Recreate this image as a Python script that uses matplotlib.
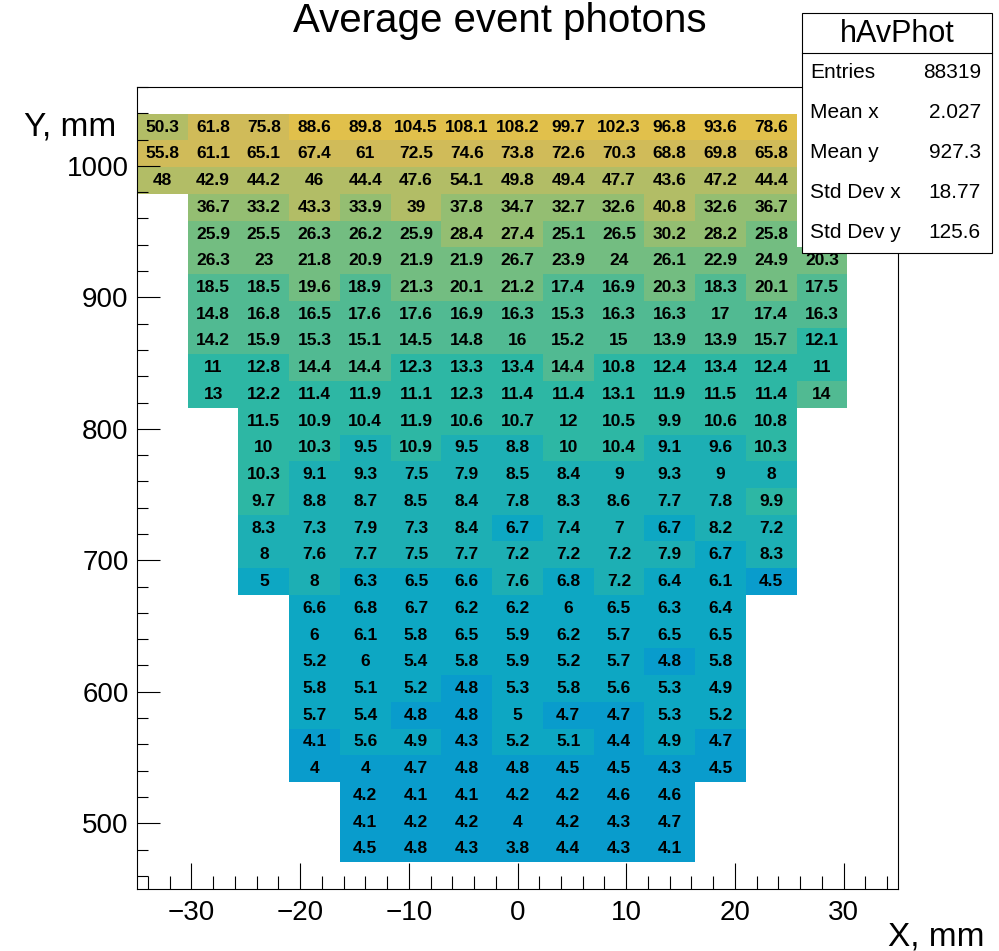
import numpy as np
import matplotlib
matplotlib.use("Agg")
import matplotlib.pyplot as plt
from matplotlib.colors import ListedColormap, BoundaryNorm
from matplotlib.ticker import MultipleLocator
from matplotlib.patches import Rectangle
from matplotlib.lines import Line2D

plt.rcParams['font.family'] = ['Liberation Sans', 'DejaVu Sans']

# histogram binning (ROOT TH2: 15 x bins, 30 y bins)
x_range = (-35, 35)
y_range = (450, 1060)
nx, ny = 15, 30

# average photons per cell, rows from the top (y bin 28) down to y bin 1
# first_col = index of the first filled x bin in each row
first_col = [0, 0, 0, 1, 1, 1, 1, 1, 1, 1, 1, 2, 2, 2, 2, 2, 2, 2,
             3, 3, 3, 3, 3, 3, 3, 4, 4, 4]
row28 = [50.3, 61.8, 75.8, 88.6, 89.8, 104.5, 108.1, 108.2, 99.7, 102.3, 96.8, 93.6, 78.6]
row27 = [55.8, 61.1, 65.1, 67.4, 61, 72.5, 74.6, 73.8, 72.6, 70.3, 68.8, 69.8, 65.8]
row26 = [48, 42.9, 44.2, 46, 44.4, 47.6, 54.1, 49.8, 49.4, 47.7, 43.6, 47.2, 44.4]
row25 = [36.7, 33.2, 43.3, 33.9, 39, 37.8, 34.7, 32.7, 32.6, 40.8, 32.6, 36.7]
row24 = [25.9, 25.5, 26.3, 26.2, 25.9, 28.4, 27.4, 25.1, 26.5, 30.2, 28.2, 25.8]
row23 = [26.3, 23, 21.8, 20.9, 21.9, 21.9, 26.7, 23.9, 24, 26.1, 22.9, 24.9, 20.3]
row22 = [18.5, 18.5, 19.6, 18.9, 21.3, 20.1, 21.2, 17.4, 16.9, 20.3, 18.3, 20.1, 17.5]
row21 = [14.8, 16.8, 16.5, 17.6, 17.6, 16.9, 16.3, 15.3, 16.3, 16.3, 17, 17.4, 16.3]
row20 = [14.2, 15.9, 15.3, 15.1, 14.5, 14.8, 16, 15.2, 15, 13.9, 13.9, 15.7, 12.1]
row19 = [11, 12.8, 14.4, 14.4, 12.3, 13.3, 13.4, 14.4, 10.8, 12.4, 13.4, 12.4, 11]
row18 = [13, 12.2, 11.4, 11.9, 11.1, 12.3, 11.4, 11.4, 13.1, 11.9, 11.5, 11.4, 14]
row17 = [11.5, 10.9, 10.4, 11.9, 10.6, 10.7, 12, 10.5, 9.9, 10.6, 10.8]
row16 = [10, 10.3, 9.5, 10.9, 9.5, 8.8, 10, 10.4, 9.1, 9.6, 10.3]
row15 = [10.3, 9.1, 9.3, 7.5, 7.9, 8.5, 8.4, 9, 9.3, 9, 8]
row14 = [9.7, 8.8, 8.7, 8.5, 8.4, 7.8, 8.3, 8.6, 7.7, 7.8, 9.9]
row13 = [8.3, 7.3, 7.9, 7.3, 8.4, 6.7, 7.4, 7, 6.7, 8.2, 7.2]
row12 = [8, 7.6, 7.7, 7.5, 7.7, 7.2, 7.2, 7.2, 7.9, 6.7, 8.3]
row11 = [5, 8, 6.3, 6.5, 6.6, 7.6, 6.8, 7.2, 6.4, 6.1, 4.5]
row10 = [6.6, 6.8, 6.7, 6.2, 6.2, 6, 6.5, 6.3, 6.4]
row09 = [6, 6.1, 5.8, 6.5, 5.9, 6.2, 5.7, 6.5, 6.5]
row08 = [5.2, 6, 5.4, 5.8, 5.9, 5.2, 5.7, 4.8, 5.8]
row07 = [5.8, 5.1, 5.2, 4.8, 5.3, 5.8, 5.6, 5.3, 4.9]
row06 = [5.7, 5.4, 4.8, 4.8, 5, 4.7, 4.7, 5.3, 5.2]
row05 = [4.1, 5.6, 4.9, 4.3, 5.2, 5.1, 4.4, 4.9, 4.7]
row04 = [4, 4, 4.7, 4.8, 4.8, 4.5, 4.5, 4.3, 4.5]
row03 = [4.2, 4.1, 4.1, 4.2, 4.2, 4.6, 4.6]
row02 = [4.1, 4.2, 4.2, 4, 4.2, 4.3, 4.7]
row01 = [4.5, 4.8, 4.3, 3.8, 4.4, 4.3, 4.1]

rows = [row28, row27, row26, row25, row24, row23, row22, row21, row20, row19,
        row18, row17, row16, row15, row14, row13, row12, row11, row10, row09,
        row08, row07, row06, row05, row04, row03, row02, row01]

# stats box
stat_names = ["Entries", "Mean x", "Mean y", "Std Dev x", "Std Dev y"]
stat_values = ["88319", "2.027", "927.3", "18.77", "125.6"]

# ROOT kBird palette, 20 contour levels on a log z scale
stops = [0.0, 0.125, 0.25, 0.375, 0.5, 0.625, 0.75, 0.875, 1.0]
red = [0.2082, 0.0592, 0.0780, 0.0232, 0.1802, 0.5301, 0.8186, 0.9956, 0.9764]
green = [0.1664, 0.3599, 0.5041, 0.6419, 0.7178, 0.7492, 0.7328, 0.7862, 0.9832]
blue = [0.5293, 0.8684, 0.8385, 0.7914, 0.6425, 0.4662, 0.3499, 0.1968, 0.0539]
ndiv = 20
idx = [int((i + 0.99) * 255 / ndiv) / 255 for i in range(ndiv)]
level_colors = [(np.interp(f, stops, red), np.interp(f, stops, green), np.interp(f, stops, blue)) for f in idx]
cmap = ListedColormap(level_colors)
zmin = 10 ** -0.3635
bounds = zmin * 10 ** (3.0 * np.arange(ndiv + 1) / ndiv)
norm = BoundaryNorm(bounds, ncolors=ndiv)

z = np.full((ny, nx), np.nan)
for k, vals in enumerate(rows):
    yb = 28 - k
    c0 = first_col[k]
    z[yb, c0:c0 + len(vals)] = vals

xedges = np.linspace(x_range[0], x_range[1], nx + 1)
yedges = np.linspace(y_range[0], y_range[1], ny + 1)

W, H = 999, 951
fig = plt.figure(figsize=(W / 100, H / 100), dpi=100)
ax = fig.add_axes([137 / W, 1 - 889 / H, (898 - 137) / W, (889 - 87) / H])
ax.pcolormesh(xedges, yedges, np.ma.masked_invalid(z), cmap=cmap, norm=norm)

xc = 0.5 * (xedges[:-1] + xedges[1:])
yc = 0.5 * (yedges[:-1] + yedges[1:])
for j in range(ny):
    for i in range(nx):
        if not np.isnan(z[j, i]):
            ax.text(xc[i], yc[j], f"{z[j, i]:g}", ha='center', va='center',
                    fontsize=12.5, fontweight='bold', color='black')

ax.set_xlim(*x_range)
ax.set_ylim(*y_range)
ax.xaxis.set_major_locator(MultipleLocator(10))
ax.xaxis.set_minor_locator(MultipleLocator(2))
ax.yaxis.set_major_locator(MultipleLocator(100))
ax.yaxis.set_minor_locator(MultipleLocator(20))
ax.tick_params(axis='x', which='major', direction='in', length=18.7, width=0.8, labelsize=20, pad=8)
ax.tick_params(axis='x', which='minor', direction='in', length=9.4, width=0.8)
ax.tick_params(axis='y', which='major', direction='in', length=16.6, width=0.8, labelsize=20, pad=6)
ax.tick_params(axis='y', which='minor', direction='in', length=8, width=0.8)
for s in ax.spines.values():
    s.set_linewidth(0.8)

fig.text(0.5, 1 - 32 / H, "Average event photons", ha='center', va='baseline', fontsize=29)
fig.text(116 / W, 1 - 135 / H, "Y, mm", ha='right', va='baseline', fontsize=24)
fig.text(984 / W, 1 - 945 / H, "X, mm", ha='right', va='baseline', fontsize=24)

# stats box
bx0, bx1, by0, by1 = 801.7, 992.3, 13.3, 253.3
fig.add_artist(Rectangle((bx0 / W, 1 - by1 / H), (bx1 - bx0) / W, (by1 - by0) / H,
                         transform=fig.transFigure, facecolor='white', edgecolor='black', lw=0.8, zorder=5))
fig.add_artist(Line2D([bx0 / W, bx1 / W], [1 - 52.7 / H, 1 - 52.7 / H],
                      transform=fig.transFigure, color='black', lw=0.8, zorder=6))
fig.text((bx0 + bx1) / 2 / W, 1 - 34 / H, "hAvPhot", ha='center', va='center', fontsize=22, zorder=7)
for n, (name, val) in enumerate(zip(stat_names, stat_values)):
    yy = 1 - (72.5 + 40 * n) / H
    fig.text(810 / W, yy, name, ha='left', va='center', fontsize=15, zorder=7)
    fig.text(981 / W, yy, val, ha='right', va='center', fontsize=15, zorder=7)

fig.savefig("out.png", dpi=100)
